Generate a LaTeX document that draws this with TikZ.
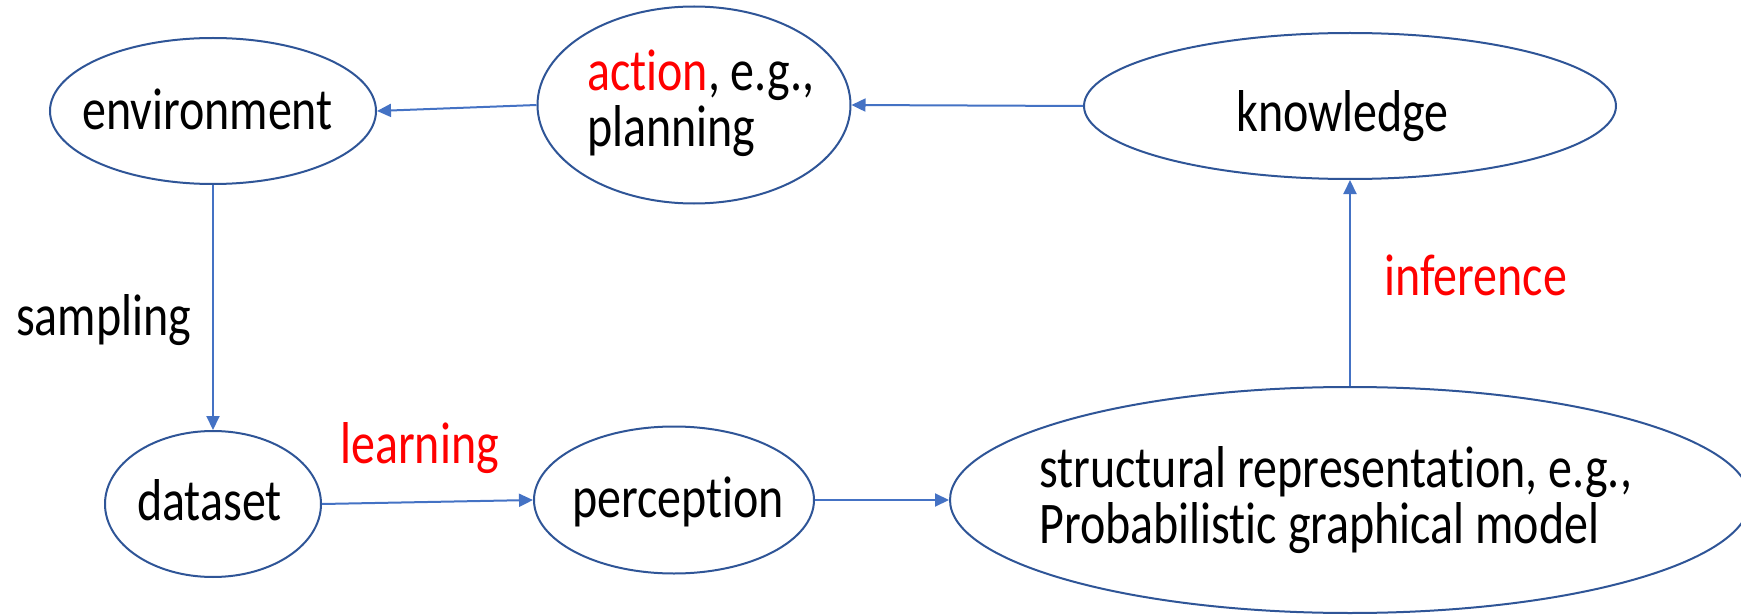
\documentclass[tikz,border=0pt]{standalone}
\usepackage{graphicx}
\usepackage{fontspec}
\setmainfont{Carlito}[Ligatures={NoCommon}]
\usetikzlibrary{shapes.geometric,arrows.meta}
\definecolor{rim}{HTML}{2F5597}
\definecolor{flow}{HTML}{4472C4}
\definecolor{hot}{HTML}{FF0000}
% slightly tall lettering
\newcommand\tallword[1]{\scalebox{1}[1.23]{#1}}
\begin{document}
\begin{tikzpicture}[x=1pt,y=-1pt,
  bubble/.style={ellipse, draw=rim, line width=2pt, inner sep=0pt, fill=white},
  link/.style={draw=flow, line width=2pt, -{Triangle[length=14pt,width=13pt]}},
  word/.style={inner sep=0pt, anchor=base west, font=\fontsize{48}{57}\selectfont}]
\useasboundingbox (0,0) rectangle (1741,615);
\clip (0,0) rectangle (1741,615);

% ellipses
\node[bubble, minimum width=326pt, minimum height=146pt] (env)  at (213,111) {};
\node[bubble, minimum width=313pt, minimum height=197pt] (act)  at (694,105) {};
\node[bubble, minimum width=532pt, minimum height=146pt] (know) at (1350,106) {};
\node[bubble, minimum width=216pt, minimum height=146pt] (data) at (213,504) {};
\node[bubble, minimum width=280pt, minimum height=147pt] (perc) at (674,500) {};
\node[bubble, minimum width=800pt, minimum height=226pt] (struct) at (1350,500) {};

% texts inside the ellipses
\node[word] (env-t)  at (82,130)   {\tallword{environment}};
\node[word] (act-t1) at (587,91)   {\tallword{\textcolor{hot}{action}, e.g.,}};
\node[word] (act-t2) at (587,147)  {\tallword{planning}};
\node[word] (know-t) at (1236,132) {\tallword{knowledge}};
\node[word] (data-t) at (137,520)  {\tallword{dataset}};
\node[word] (perc-t) at (572,517)  {\tallword{perception}};
\node[word] (st-t1)  at (1039,487) {\tallword{structural representation, e.g.,}};
\node[word] (st-t2)  at (1039,543) {\tallword{Probabilistic graphical model}};

% edge labels
\node[word] (samp)  at (16,335)   {\tallword{sampling}};
\node[word, text=hot] (learn) at (340,463)  {\tallword{learning}};
\node[word, text=hot] (infer) at (1384,295) {\tallword{inference}};

% connectors
\draw[link] (act.west)    -- (env.east);
\draw[link] (know.west)   -- (act.east);
\draw[link] (env.south)   -- (data.north);
\draw[link] (data.east)   -- (perc.west);
\draw[link] (perc.east)   -- (struct.west);
\draw[link] (struct.north) -- (know.south);
\end{tikzpicture}
\end{document}
